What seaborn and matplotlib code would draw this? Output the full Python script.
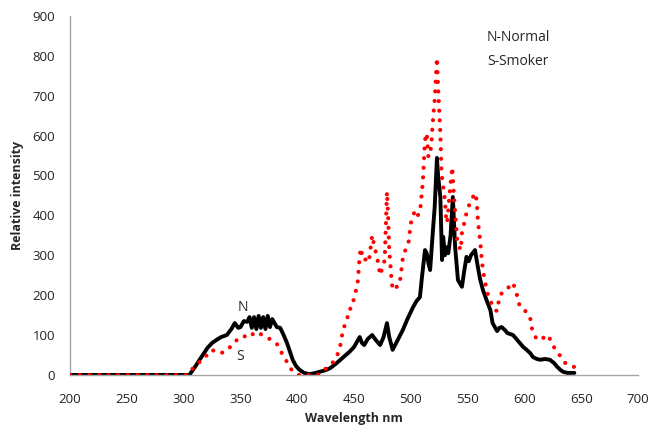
import matplotlib
matplotlib.use("Agg")
import matplotlib.pyplot as plt
import seaborn as sns

# Normal (N) spectrum
normal_nm = [200, 305, 310, 314, 318, 321, 325, 329, 333, 338, 342, 345, 348, 350, 353, 356,
             358, 360, 362, 364, 366, 368, 370, 372, 374, 376, 378, 382, 385, 388, 391, 394,
             396, 399, 402, 406, 411, 416, 420, 425, 429, 434, 438, 442, 446, 450, 453, 455,
             457, 459, 462, 466, 469, 473, 476, 479, 481, 484, 488, 493, 497, 502, 505, 508,
             510, 512.5, 514, 515.5, 517, 519.5, 521, 523, 524, 526, 527.5, 528.5, 530, 531.5,
             533, 535, 537, 539, 541.5, 545, 547, 549, 551, 553, 556.5, 559, 561, 563.5, 567,
             570, 572, 574, 576, 578, 580, 583, 585, 590, 593, 596, 599, 602, 605, 607.5, 611,
             614, 618, 622.5, 626, 629, 632, 634, 638, 644]
normal_val = [0, 0, 20, 38, 55, 68, 80, 88, 95, 100, 115, 130, 118, 120, 135, 133,
              145, 118, 145, 115, 148, 118, 145, 115, 148, 120, 140, 120, 118, 100, 80, 55,
              38, 22, 13, 5, 2, 5, 8, 12, 17, 28, 38, 48, 58, 70, 85, 95,
              80, 75, 90, 100, 88, 75, 95, 130, 95, 63, 85, 113, 140, 170, 185, 195,
              250, 313, 305, 280, 263, 363, 420, 544, 500, 446, 288, 346, 300, 320,
              305, 350, 446, 321, 238, 221, 260, 296, 285, 300, 313, 271, 240, 213, 185,
              163, 130, 120, 110, 118, 120, 112, 105, 100, 90, 80, 70, 63, 55, 45, 40,
              38, 40, 38, 30, 20, 12, 8, 5, 5]

# Smoker (S) spectrum
smoker_nm = [200, 303, 307, 311, 315, 318, 321, 325, 328, 330, 333, 336, 338, 341, 343, 345,
             348, 351, 353, 356, 358, 360, 362, 365, 367, 370, 372, 374, 377, 379, 382, 385,
             387, 389, 391, 393, 395, 398, 401, 411, 418, 422, 426, 429, 431, 434, 436, 438,
             439, 440, 442, 444, 445, 448, 449, 451, 453, 454, 455, 456, 458, 461, 463, 466,
             468, 470, 473, 475, 477, 479, 480, 481, 483, 484, 487, 490, 493, 496, 498, 500,
             502, 504, 506, 508, 510.5, 512.5, 514, 515.5, 518, 519, 521, 522, 523, 524, 526,
             527, 530, 531, 532, 534, 536.5, 538, 540, 541, 544, 545, 547, 549, 552, 554, 556,
             558, 559, 561, 562.5, 563.5, 565, 567.5, 571, 574, 576, 578, 582, 587, 590, 593,
             596, 600, 605, 606, 609, 611, 616, 621, 624, 627, 630, 633, 636, 640, 644]
smoker_val = [0, 0, 13, 25, 35, 45, 50, 63, 58, 55, 55, 58, 65, 70, 78, 83,
              90, 95, 98, 93, 97, 100, 105, 108, 103, 100, 97, 93, 88, 83, 78, 65,
              50, 40, 33, 22, 13, 5, 0, 0, 0, 8, 18, 25, 30, 42, 55, 75,
              88, 113, 125, 138, 163, 168, 180, 205, 225, 260, 300, 318, 288, 290, 283, 350,
              320, 300, 250, 270, 288, 459, 400, 313, 240, 213, 220, 225, 293, 320, 333, 380,
              400, 413, 400, 406, 481, 589, 606, 546, 571, 621, 689, 740, 795, 722, 606,
              506, 439, 396, 381, 450, 521, 446, 371, 331, 313, 356, 380, 406, 431, 440, 456,
              439, 388, 338, 288, 263, 238, 205, 180, 163, 160, 196, 213, 221, 231, 205,
              171, 163, 146, 121, 100, 88, 92, 100, 80, 65, 55, 40, 30, 23, 20]

x_ticks = list(range(200, 701, 50))
y_ticks = list(range(0, 901, 100))

sns.set_style("white")
plt.rcParams["font.family"] = ["Open Sans", "DejaVu Sans"]

fig = plt.figure(figsize=(6.49, 4.29), dpi=100)
ax = fig.add_axes([0.108, 0.126, 0.875, 0.837])

sns.lineplot(x=normal_nm, y=normal_val, ax=ax, color="black", linewidth=2.8,
             estimator=None, sort=False, solid_joinstyle="round", zorder=2)
sns.lineplot(x=smoker_nm, y=smoker_val, ax=ax, color="#ff0000", linewidth=3.0,
             estimator=None, sort=False, linestyle=(0, (0.01, 2.3)),
             dash_capstyle="round", zorder=3)

ax.set_xlim(200, 700)
ax.set_ylim(0, 900)
ax.set_xticks(x_ticks)
ax.set_yticks(y_ticks)
ax.tick_params(axis="both", length=0, labelsize=9.5, colors="#222222")
ax.tick_params(axis="x", pad=13)
ax.tick_params(axis="y", pad=11)

for side in ["top", "right"]:
    ax.spines[side].set_visible(False)
for side in ["left", "bottom"]:
    ax.spines[side].set_color("#a6a6a6")
    ax.spines[side].set_linewidth(1.0)

ax.set_xlabel("Wavelength nm", fontsize=9, fontweight="bold", labelpad=4)
ax.set_ylabel("Relative intensity", fontsize=9, fontweight="bold", labelpad=6)

ax.text(567, 845, "N-Normal", fontsize=10, va="center", ha="left")
ax.text(567, 785, "S-Smoker", fontsize=10, va="center", ha="left")
ax.text(352, 168, "N", fontsize=10, va="center", ha="center")
ax.text(350, 45, "S", fontsize=10, va="center", ha="center")

fig.savefig("out.png", dpi=100)
